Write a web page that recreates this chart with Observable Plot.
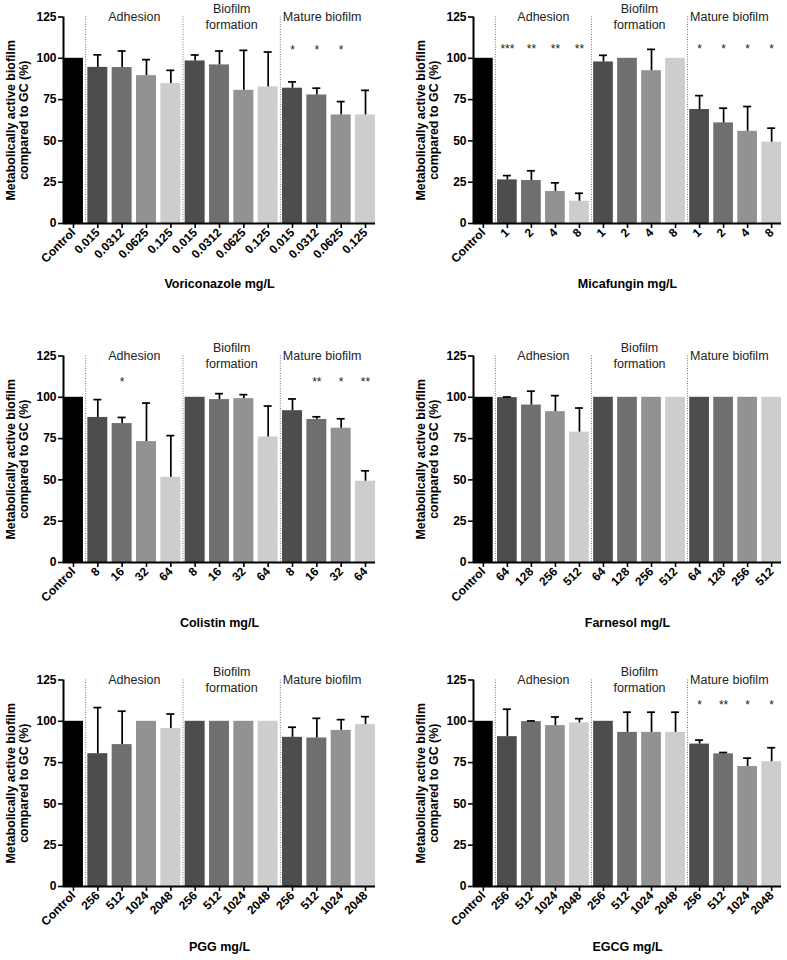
<!DOCTYPE html>
<html><head><meta charset="utf-8">
<script src="https://cdn.jsdelivr.net/npm/d3@7"></script>
<script src="https://cdn.jsdelivr.net/npm/@observablehq/plot@0.6"></script>
<style>
body{margin:0;background:#fff;}
#wrap{position:relative;width:787px;height:960px;overflow:hidden;font-family:"Liberation Sans",Arial,sans-serif;background:#fff;}
.panel{position:absolute;}
</style></head><body><div id="wrap"></div>
<script>
// ---- data ----
const drugTitles = ["Voriconazole mg/L", "Micafungin mg/L", "Colistin mg/L", "Farnesol mg/L", "PGG mg/L", "EGCG mg/L"];
const vorConc = ["0.015", "0.0312", "0.0625", "0.125"];
const micConc = ["1", "2", "4", "8"];
const colConc = ["8", "16", "32", "64"];
const farConc = ["64", "128", "256", "512"];
const pggConc = ["256", "512", "1024", "2048"];
const egcConc = ["256", "512", "1024", "2048"];

const vorValues = [100, 94.5, 94.4, 89.5, 84.7, 98.4, 96, 80.6, 82.7, 81.9, 77.8, 65.7, 65.7];
const vorErrors = [0, 7.6, 10, 9.7, 8, 3.6, 8.4, 24.2, 21.1, 3.8, 4.1, 8.1, 14.9];
const vorStars  = ["", "", "", "", "", "", "", "", "", "*", "*", "*", ""];

const micValues = [100, 26.4, 26, 19.4, 13.5, 97.8, 100, 92.5, 100, 69, 60.9, 55.8, 49.2];
const micErrors = [0, 2.6, 5.9, 5.2, 4.8, 4, 0, 12.9, 0, 8.4, 8.9, 15, 8.5];
const micStars  = ["", "***", "**", "**", "**", "", "", "", "", "*", "*", "*", "*"];

const colValues = [100, 87.8, 84.1, 73.2, 51.6, 100, 98.6, 99.2, 76, 91.9, 86.6, 81.3, 49.2];
const colErrors = [0, 10.8, 3.7, 23.3, 25.2, 0, 3.6, 2.4, 18.7, 7.1, 1.6, 5.7, 6.3];
const colStars  = ["", "", "*", "", "", "", "", "", "", "", "**", "*", "**"];

const farValues = [100, 99.8, 95.3, 91.3, 78.9, 100, 100, 100, 100, 100, 100, 100, 100];
const farErrors = [0, 0.4, 8.4, 9.7, 14.6, 0, 0, 0, 0, 0, 0, 0, 0];
const farStars  = ["", "", "", "", "", "", "", "", "", "", "", "", ""];

const pggValues = [100, 80.4, 85.9, 100, 95.6, 100, 100, 100, 100, 90.3, 89.9, 94.5, 98];
const pggErrors = [0, 27.9, 20.2, 0, 8.8, 0, 0, 0, 0, 6.1, 11.9, 6.5, 4.8];
const pggStars  = ["", "", "", "", "", "", "", "", "", "", "", "", ""];

const egcValues = [100, 90.7, 99.8, 97.4, 99, 100, 93.3, 93.3, 93.3, 86.2, 80.3, 72.6, 75.5];
const egcErrors = [0, 16.6, 0.4, 5.2, 2.6, 0, 12.2, 12.2, 12.2, 2.4, 0.8, 5.1, 8.5];
const egcStars  = ["", "", "", "", "", "", "", "", "", "*", "**", "*", "*"];

const starLevels = [105, 105.5, 109, 109, 109, 109.5];
const groupNames = ["Adhesion", "Biofilm\nformation", "Mature biofilm"];
const groupFirstBar = [1, 5, 9];
const yTicks = [0, 25, 50, 75, 100, 125];
const yTitle = "Metabolically active biofilm\ncompared to GC (%)";
const barColors = ["#000000", "#4d4d4d", "#6f6f6f", "#929292", "#cdcdcd"];

const panels = [
  {title: drugTitles[0], conc: vorConc, values: vorValues, errors: vorErrors, stars: vorStars, starY: starLevels[0]},
  {title: drugTitles[1], conc: micConc, values: micValues, errors: micErrors, stars: micStars, starY: starLevels[1]},
  {title: drugTitles[2], conc: colConc, values: colValues, errors: colErrors, stars: colStars, starY: starLevels[2]},
  {title: drugTitles[3], conc: farConc, values: farValues, errors: farErrors, stars: farStars, starY: starLevels[3]},
  {title: drugTitles[4], conc: pggConc, values: pggValues, errors: pggErrors, stars: pggStars, starY: starLevels[4]},
  {title: drugTitles[5], conc: egcConc, values: egcValues, errors: egcErrors, stars: egcStars, starY: starLevels[5]}
];

const wrap = document.getElementById("wrap");
const rowTops = [0, 338.5, 663];
const FONT = "'Liberation Sans', Arial, Helvetica, sans-serif";

panels.forEach((p, k) => {
  const col = k % 2, row = Math.floor(k / 2);
  const W = col ? 394 : 393;
  const ml = col ? 80 : 63, mr = col ? 6 : 18;
  const mt = 16.5, mb = 72, H = 295;
  const n = 13, pad = 0.18;
  const step = (W - ml - mr) / (n - pad);
  const bw = step * (1 - pad);
  const tickLabels = ["Control", ...p.conc, ...p.conc, ...p.conc];
  const rows = d3.range(n).map(i => ({
    i, v: p.values[i], e: p.errors[i], c: i === 0 ? 0 : ((i - 1) % 4) + 1, s: p.stars[i]
  }));
  const errRows = rows.filter(d => d.e > 0);
  const starRows = rows.filter(d => d.s);
  const groups = groupNames.map((name, g) => ({name, first: groupFirstBar[g]}));

  const chart = Plot.plot({
    width: W, height: H,
    marginLeft: ml, marginRight: mr, marginTop: mt, marginBottom: mb,
    style: {fontFamily: FONT, fontSize: "12px", color: "#000", background: "transparent", overflow: "visible"},
    x: {type: "band", domain: d3.range(n), paddingInner: pad, paddingOuter: 0, round: false},
    y: {domain: [0, 125]},
    color: {type: "ordinal", domain: [0, 1, 2, 3, 4], range: barColors},
    marks: [
      Plot.barY(rows, {x: "i", y: "v", fill: "c"}),
      Plot.ruleX(errRows, {x: "i", y1: "v", y2: d => d.v + d.e, stroke: "#000", strokeWidth: 1.7}),
      Plot.tickY(errRows, {x: "i", y: d => d.v + d.e, stroke: "#000", strokeWidth: 1.7, inset: (bw - 8) / 2}),
      Plot.ruleX(groupFirstBar, {x: d => d, dx: -step / 2, stroke: "#777", strokeWidth: 1, strokeDasharray: "1,1.5"}),
      Plot.text(groups.slice(0, 2), {x: d => d.first + 1, y: 125.5, dx: step / 2, text: "name", fontSize: 12.5, lineHeight: 1.3, fill: "#222"}),
      Plot.text(groups.slice(2), {x: "first", y: 125, dx: -step / 2 + 2.5, text: "name", textAnchor: "start", fontSize: 12.5, fill: "#222"}),
      Plot.text(starRows, {x: "i", y: () => p.starY, text: "s", fontSize: 12, fill: "#222"}),
      Plot.ruleY([0], {stroke: "#000", strokeWidth: 2}),
      Plot.ruleX([0], {dx: -bw / 2, stroke: "#000", strokeWidth: 2}),
      Plot.axisY({ticks: yTicks, tickSize: 5, tickPadding: 2, fontWeight: "bold", fontSize: 12, strokeWidth: 1.6, label: null}),
      Plot.axisX({tickFormat: i => tickLabels[i], tickRotate: -45, tickSize: 5, tickPadding: 2, fontWeight: "bold", fontSize: 12, strokeWidth: 1.6, label: null}),
      Plot.text([p.title], {frameAnchor: "bottom", dy: 64, fontWeight: "bold", fontSize: 12.5}),
      Plot.text([yTitle], {frameAnchor: "left", textAnchor: "middle", rotate: -90, dx: -46.5, lineHeight: 1.07, fontWeight: "bold", fontSize: 12.4})
    ]
  });
  const holder = document.createElement("div");
  holder.className = "panel";
  holder.style.left = (col ? 393 : 0) + "px";
  holder.style.top = rowTops[row] + "px";
  holder.appendChild(chart);
  wrap.appendChild(holder);
});
</script></body></html>
